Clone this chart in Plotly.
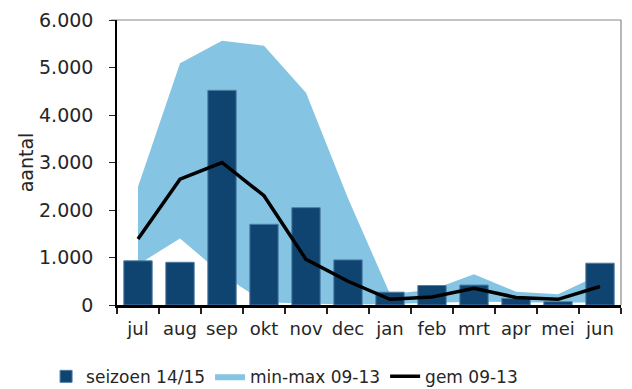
import plotly.graph_objects as go

months = ["jul", "aug", "sep", "okt", "nov", "dec", "jan", "feb", "mrt", "apr", "mei", "jun"]
seizoen_14_15 = [930, 900, 4520, 1700, 2050, 950, 270, 410, 420, 140, 70, 880]
minmax_low = [850, 1400, 650, 60, 30, 10, 20, 40, 70, 60, 50, 60]
minmax_high = [2490, 5090, 5565, 5460, 4470, 2250, 230, 320, 650, 280, 225, 640]
gem_09_13 = [1390, 2650, 3000, 2300, 960, 500, 120, 170, 350, 160, 120, 390]
y_ticks = [0, 1000, 2000, 3000, 4000, 5000, 6000]

DARK = "#0F4470"
LIGHT = "#85C5E3"
FONT = "DejaVu Sans"

fig = go.Figure()

# band on base subplot (drawn beneath)
fig.add_trace(go.Scatter(x=months, y=minmax_low, mode="lines", line=dict(width=0),
                         showlegend=False, hoverinfo="skip", xaxis="x", yaxis="y"))
fig.add_trace(go.Scatter(x=months, y=minmax_high, mode="lines", line=dict(width=0),
                         fill="tonexty", fillcolor=LIGHT, name="min-max 09-13",
                         xaxis="x", yaxis="y", legendrank=2))

# bars and line on overlay subplot (drawn above)
fig.add_trace(go.Bar(x=months, y=seizoen_14_15, name="seizoen 14/15",
                     marker=dict(color=DARK, line=dict(color="#4F7DA6", width=1)),
                     xaxis="x", yaxis="y2", legendrank=1))
fig.add_trace(go.Scatter(x=months, y=gem_09_13, mode="lines", name="gem 09-13",
                         line=dict(color="black", width=3.5), xaxis="x", yaxis="y2",
                         legendrank=3))

# page body has an 8px margin, so the figure is sized to fit the window after it
fig.update_layout(
    width=624, height=381,
    margin=dict(l=109, r=11, t=12, b=84, autoexpand=False),
    plot_bgcolor="white", paper_bgcolor="white",
    separators=",.",
    bargap=0.325,
    font=dict(family=FONT, size=18, color="#262626"),
    xaxis=dict(
        type="category", categoryorder="array", categoryarray=months,
        tickson="boundaries", ticks="outside", ticklen=6, tickwidth=1.5, tickcolor="#222222",
        showline=True, linecolor="black", linewidth=2.5, tickangle=0, automargin=False,
        showgrid=False, zeroline=False, tickfont=dict(size=18),
        ticklabelstandoff=6,
    ),
    yaxis=dict(
        range=[0, 6000], tickvals=y_ticks, tickformat=",d", automargin=False,
        ticks="outside", ticklen=6, tickwidth=1.2, tickcolor="#222222",
        showline=True, linecolor="black", linewidth=1.5,
        showgrid=False, zeroline=False, tickfont=dict(size=19),
        ticklabelstandoff=12,
        title=dict(text="aantal", font=dict(size=19), standoff=0),
    ),
    yaxis2=dict(range=[0, 6000], overlaying="y", visible=False),
    legend=dict(
        orientation="h", xref="container", yref="container",
        x=0.061, y=0.032, xanchor="left", yanchor="middle",
        font=dict(size=17), traceorder="normal", itemwidth=30,
    ),
    shapes=[
        dict(type="line", xref="paper", yref="paper", x0=-0.012, x1=1, y0=1, y1=1,
             line=dict(color="#888888", width=1.2), layer="below"),
        dict(type="line", xref="paper", yref="paper", x0=1, x1=1, y0=0, y1=1,
             line=dict(color="#888888", width=1.2), layer="below"),
    ],
)

fig.write_html("out.html")
